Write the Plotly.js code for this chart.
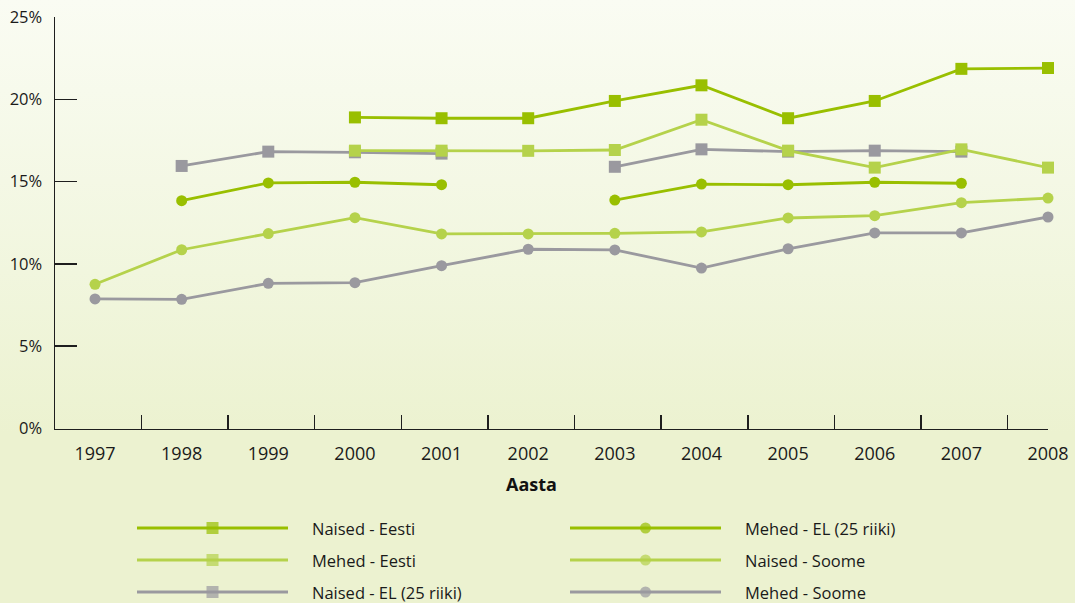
<!DOCTYPE html>
<html>
<head>
<meta charset="utf-8">
<script src="https://cdn.plot.ly/plotly-3.0.1.min.js"></script>
<style>
  html, body { margin: 0; padding: 0; }
  body { width: 1075px; height: 603px; background: linear-gradient(to bottom, #fafcf3 0%, #f1f6de 45%, #ecf2d0 72%, #ecf2d0 100%); }
  #chart { width: 1075px; height: 603px; }
</style>
</head>
<body>
<div id="chart"></div>
<script>
// ---- data ----
const years = [1997, 1998, 1999, 2000, 2001, 2002, 2003, 2004, 2005, 2006, 2007, 2008];
const naisedEesti  = [null, null, null, 18.9, 18.85, 18.85, 19.9, 20.85, 18.85, 19.9, 21.85, 21.9];
const mehedEesti   = [null, null, null, 16.88, 16.88, 16.87, 16.92, 18.76, 16.88, 15.85, 16.96, 15.85];
const naisedEL     = [null, 15.95, 16.82, 16.78, 16.7, null, 15.9, 16.96, 16.82, 16.88, 16.82, null];
const mehedEL      = [null, 13.84, 14.92, 14.96, 14.81, null, 13.88, 14.85, 14.81, 14.96, 14.9, null];
const naisedSoome  = [8.76, 10.86, 11.84, 12.81, 11.82, 11.82, 11.86, 11.94, 12.79, 12.93, 13.72, 14.0];
const mehedSoome   = [7.87, 7.85, 8.82, 8.86, 9.89, 10.89, 10.85, 9.75, 10.92, 11.88, 11.88, 12.85];
const yTicks = [0, 5, 10, 15, 20, 25];
const yTickLabels = ['0%', '5%', '10%', '15%', '20%', '25%'];
const xTitle = 'Aasta';

// ---- styles ----
const DARK = '#99bf00', LIGHT = '#b5d24b', GRAY = '#9a999f';
const FONT = 'Open Sans, Noto Sans, sans-serif';
const AXIS = '#1e1e1e';

const series = [
  { name: 'Naised - Eesti',      y: naisedEesti, color: DARK,  symbol: 'square', size: 12, col: 0, row: 0, z: 5 },
  { name: 'Mehed - Eesti',       y: mehedEesti,  color: LIGHT, symbol: 'square', size: 12, col: 0, row: 1, z: 4 },
  { name: 'Naised - EL (25 riiki)', y: naisedEL, color: GRAY,  symbol: 'square', size: 12, col: 0, row: 2, z: 3 },
  { name: 'Mehed - EL (25 riiki)',  y: mehedEL,  color: DARK,  symbol: 'circle', size: 11, col: 1, row: 0, z: 2 },
  { name: 'Naised - Soome',      y: naisedSoome, color: LIGHT, symbol: 'circle', size: 11, col: 1, row: 1, z: 1 },
  { name: 'Mehed - Soome',       y: mehedSoome,  color: GRAY,  symbol: 'circle', size: 11, col: 1, row: 2, z: 0 }
];

const midTicks = years.slice(0, -1).map(y => y + 0.535);
const xRange = [1996.538, 2008];
const mainDomainBottom = 174.5 / 586;

const traces = [];
// invisible helper trace so the tick-mark axis (x2) is drawn
traces.push({ type: 'scatter', mode: 'markers', x: [years[0]], y: [0], xaxis: 'x2', yaxis: 'y',
  marker: { size: 0, opacity: 0 }, showlegend: false, hoverinfo: 'skip' });

series.slice().sort((a, b) => a.z - b.z).forEach(s => {
  traces.push({
    type: 'scatter', mode: 'lines+markers', x: years, y: s.y, name: s.name,
    connectgaps: false, cliponaxis: false, showlegend: false, hoverinfo: 'skip',
    line: { color: s.color, width: 2.8 },
    marker: { color: s.color, symbol: s.symbol, size: s.size, line: { width: 0 } }
  });
});

// ---- custom legend (long line samples) on a hidden axis measured in pixels ----
const LEG_COL_X = [137, 570];
const LEG_LINE_LEN = 151;
const LEG_TEXT_GAP = 22;
const annotations = [];
series.forEach(s => {
  const x0 = LEG_COL_X[s.col];
  traces.push({
    type: 'scatter', mode: 'lines+markers', xaxis: 'x3', yaxis: 'y3',
    x: [x0, x0 + LEG_LINE_LEN / 2, x0 + LEG_LINE_LEN], y: [s.row, s.row, s.row],
    showlegend: false, hoverinfo: 'skip', cliponaxis: false,
    line: { color: s.color, width: 2.8 },
    marker: { color: s.color, symbol: s.symbol, size: [0, s.size, 0], line: { width: 0 } }
  });
  annotations.push({
    xref: 'x3', yref: 'y3', x: x0 + LEG_LINE_LEN + LEG_TEXT_GAP, y: s.row,
    text: s.name, showarrow: false, xanchor: 'left', yanchor: 'middle',
    font: { family: FONT, size: 16.5, color: '#1a1a1a' }
  });
});

annotations.push({
  xref: 'paper', yref: 'paper', x: 0.48, y: 0.203, text: '<b>' + xTitle + '</b>',
  showarrow: false, xanchor: 'center', yanchor: 'middle',
  font: { family: FONT, size: 18, color: '#111' }
});

const layout = {
  width: 1075, height: 603,
  margin: { l: 55, r: 27, t: 17, b: 0 },
  paper_bgcolor: 'rgba(0,0,0,0)', plot_bgcolor: 'rgba(0,0,0,0)',
  showlegend: false,
  font: { family: FONT, color: '#1a1a1a' },
  xaxis: {
    range: xRange, domain: [0, 1], anchor: 'y',
    tickvals: years, ticktext: years.map(String), ticks: '',
    showline: true, linecolor: AXIS, linewidth: 1.5, showgrid: false, zeroline: false,
    tickfont: { family: FONT, size: 18, color: '#1a1a1a' }, ticklabelstandoff: 8
  },
  xaxis2: {
    range: xRange, overlaying: 'x', anchor: 'y', side: 'bottom',
    tickvals: midTicks, ticks: 'inside', ticklen: 14, tickwidth: 1.5, tickcolor: AXIS,
    showticklabels: false, showline: false, showgrid: false, zeroline: false
  },
  yaxis: {
    range: [0, 25], domain: [mainDomainBottom, 1], anchor: 'x',
    tickvals: yTicks, ticktext: yTickLabels, ticks: 'inside', ticklen: 22, tickwidth: 1.5, tickcolor: AXIS,
    showline: true, linecolor: AXIS, linewidth: 1.5, showgrid: false, zeroline: false,
    tickfont: { family: FONT, size: 16.5, color: '#1a1a1a' }, ticklabelstandoff: 8
  },
  xaxis3: { domain: [0, 1], range: [55, 1048], anchor: 'y3', visible: false, fixedrange: true },
  yaxis3: { domain: [0, 88 / 586], range: [2 + 11 / 32, -13 / 32], anchor: 'x3', visible: false, fixedrange: true },
  annotations: annotations
};

Plotly.newPlot('chart', traces, layout, { displayModeBar: false, staticPlot: true });
</script>
</body>
</html>
